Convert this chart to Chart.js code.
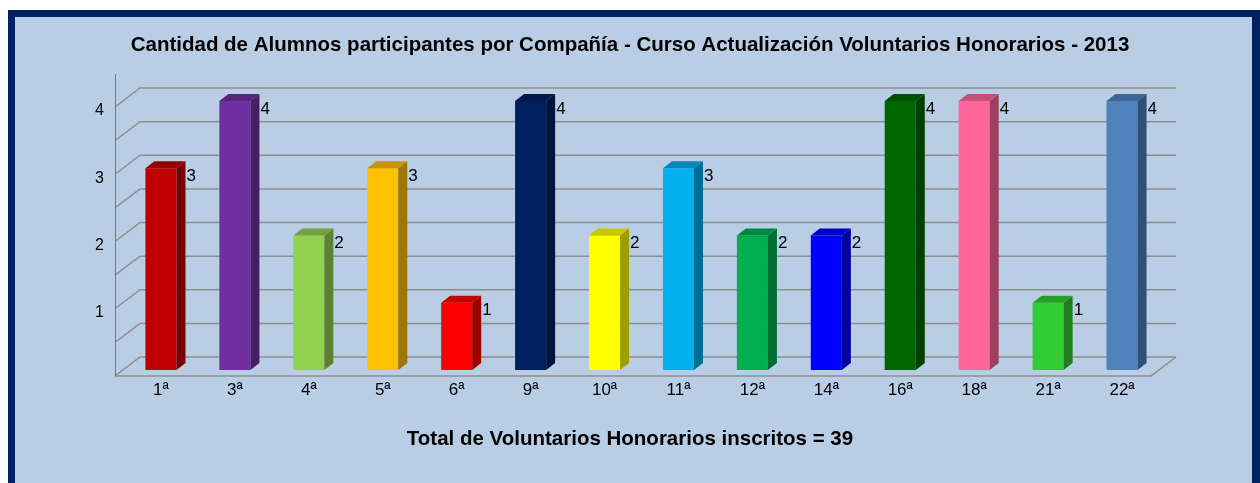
<!DOCTYPE html>
<html>
<head>
<meta charset="utf-8">
<script src="https://cdn.jsdelivr.net/npm/chart.js@4/dist/chart.umd.min.js"></script>
<style>
  html, body { margin: 0; padding: 0; background: #fff; }
  #wrap { width: 1260px; height: 483px; }
</style>
</head>
<body>
<div id="wrap"><canvas id="grafico" width="1260" height="483"></canvas></div>
<script>
var companias = ["1ª", "3ª", "4ª", "5ª", "6ª", "9ª", "10ª", "11ª", "12ª", "14ª", "16ª", "18ª", "21ª", "22ª"];
var alumnos = [3, 4, 2, 3, 1, 4, 2, 3, 2, 2, 4, 4, 1, 4];
var colores = ["#C00000", "#7030A0", "#92D050", "#FFC000", "#FF0000", "#002060", "#FFFF00",
               "#00B0F0", "#00B050", "#0000FF", "#006600", "#FF6699", "#33CC33", "#4F81BD"];
var ticksY = [0, 0.5, 1, 1.5, 2, 2.5, 3, 3.5, 4];
var titulo = "Cantidad de Alumnos participantes por Compañía - Curso Actualización Voluntarios Honorarios - 2013";
var pie = "Total de Voluntarios Honorarios inscritos = 39";

function oscurecer(hex, f) {
  var n = parseInt(hex.slice(1), 16);
  var r = Math.round(((n >> 16) & 255) * f);
  var g = Math.round(((n >> 8) & 255) * f);
  var b = Math.round((n & 255) * f);
  return "rgb(" + r + "," + g + "," + b + ")";
}

var DX = 9, DY = 7;       // profundidad de las barras
var WX = 25, WY = 19;     // profundidad de la pared
var fuente = "'Liberation Sans', Arial, sans-serif";

var fondo = {
  id: "fondo",
  beforeDraw: function (chart) {
    var c = chart.ctx;
    c.save();
    c.fillStyle = "#ffffff";
    c.fillRect(0, 0, chart.width, chart.height);
    c.fillStyle = "#002060";
    c.fillRect(8, 10, chart.width, chart.height);
    c.fillStyle = "#B9CDE5";
    c.fillRect(15, 17, 1252 - 15, chart.height);
    c.restore();
  },
  beforeDatasetsDraw: function (chart) {
    var c = chart.ctx, y = chart.scales.y;
    var xf = 115, xb = xf + WX, xr = 1176;
    c.save();
    c.strokeStyle = "#8E8E8E";
    c.lineWidth = 1.5;
    ticksY.forEach(function (v) {
      var yb = y.getPixelForValue(v) - 13;
      c.beginPath();
      c.moveTo(xf, yb + WY);
      c.lineTo(xb, yb);
      c.lineTo(xr, yb);
      c.stroke();
    });
    // piso
    var y0 = y.getPixelForValue(0) - 13 + WY;
    c.beginPath();
    c.moveTo(xf, y0);
    c.lineTo(xr - WX, y0);
    c.lineTo(xr, y0 - WY);
    c.stroke();
    // eje vertical
    c.strokeStyle = "#4F81BD";
    c.lineWidth = 1;
    c.beginPath();
    c.moveTo(115.5, 74);
    c.lineTo(115.5, y0);
    c.stroke();
    c.restore();
  },
  afterDatasetsDraw: function (chart) {
    var c = chart.ctx;
    var meta = chart.getDatasetMeta(0);
    c.save();
    meta.data.forEach(function (bar, i) {
      var p = bar.getProps(["x", "y", "base", "width"], true);
      var l = p.x - p.width / 2, r = p.x + p.width / 2, t = p.y, b = p.base;
      c.fillStyle = oscurecer(colores[i], 0.62);
      c.beginPath();
      c.moveTo(r, t); c.lineTo(r + DX, t - DY); c.lineTo(r + DX, b - DY); c.lineTo(r, b);
      c.closePath(); c.fill();
      c.fillStyle = oscurecer(colores[i], 0.78);
      c.beginPath();
      c.moveTo(l, t); c.lineTo(l + DX, t - DY); c.lineTo(r + DX, t - DY); c.lineTo(r, t);
      c.closePath(); c.fill();
      c.fillStyle = "#000";
      c.font = "17px " + fuente;
      c.textAlign = "left";
      c.textBaseline = "middle";
      c.fillText(String(alumnos[i]), r + DX + 1, t + 8);
    });
    c.restore();
  }
};

var ctx = document.getElementById("grafico").getContext("2d");
var chart = new Chart(ctx, {
  type: "bar",
  data: {
    labels: companias,
    datasets: [{
      label: "Alumnos",
      data: alumnos,
      backgroundColor: colores,
      borderWidth: 0,
      barPercentage: 0.84,
      categoryPercentage: 0.5,
      clip: false
    }]
  },
  options: {
    responsive: false,
    animation: false,
    layout: { padding: 0 },
    plugins: {
      legend: { display: false },
      tooltip: { enabled: false },
      title: {
        display: true,
        text: titulo,
        color: "#000",
        font: { family: fuente, size: 20.5, weight: "bold", lineHeight: 1.2 },
        padding: { top: 33, bottom: 43.4 }
      },
      subtitle: {
        display: true,
        position: "bottom",
        text: pie,
        color: "#000",
        font: { family: fuente, size: 20.5, weight: "bold", lineHeight: 1.2 },
        padding: { top: 10, bottom: 31 }
      }
    },
    scales: {
      x: {
        grid: { display: false, drawTicks: false },
        border: { display: false },
        ticks: { color: "#000", padding: 10, font: { family: fuente, size: 17 } },
        afterFit: function (s) { s.height = 47.4; }
      },
      y: {
        min: 0,
        max: 4,
        grid: { display: false, drawTicks: false },
        border: { display: false },
        afterBuildTicks: function (s) { s.ticks = ticksY.map(function (v) { return { value: v }; }); },
        ticks: {
          color: "#000",
          padding: 20,
          labelOffset: 10,
          font: { family: fuente, size: 16 },
          callback: function (v) { return Number.isInteger(v) && v > 0 ? v : ""; }
        },
        afterFit: function (s) { s.width = 124; }
      },
      derecha: {
        position: "right",
        min: 0,
        max: 4,
        grid: { display: false, drawTicks: false },
        border: { display: false },
        ticks: { display: false },
        afterFit: function (s) { s.width = 101; }
      }
    }
  },
  plugins: [fondo]
});
</script>
</body>
</html>
